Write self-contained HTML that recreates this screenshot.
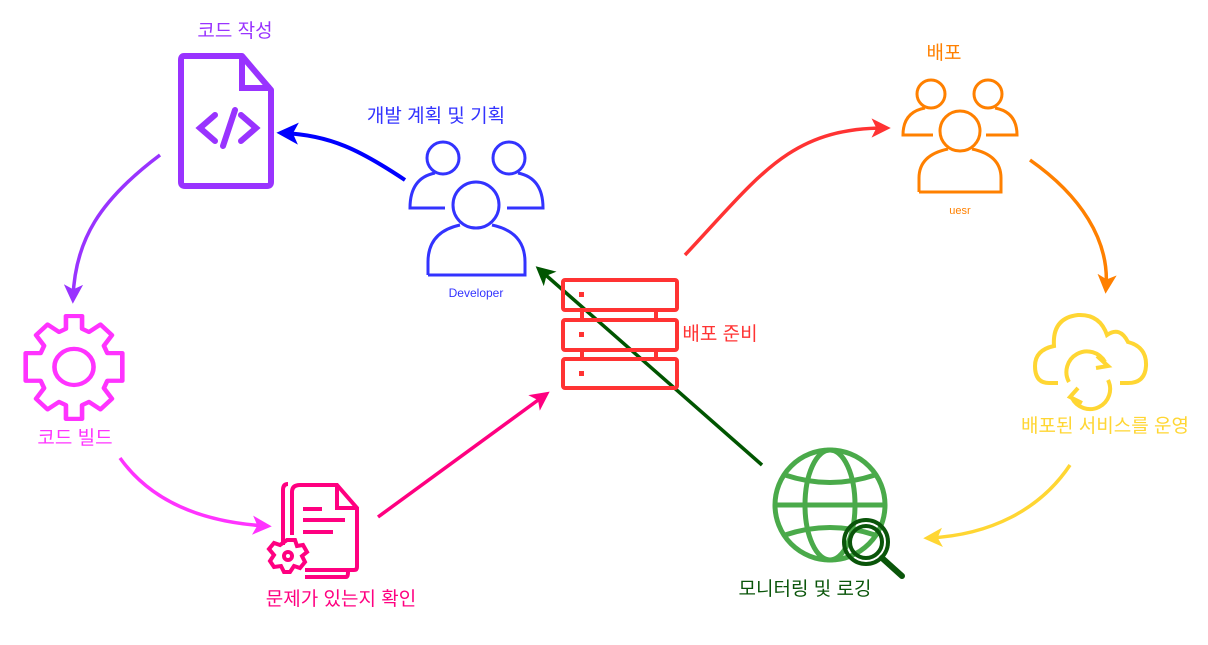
<!DOCTYPE html>
<html><head><meta charset="utf-8"><style>
html,body{margin:0;padding:0;background:#fff}
svg text{font-family:"Liberation Sans","Noto Sans CJK KR",sans-serif}
</style></head><body>
<svg width="1208" height="640" viewBox="0 0 1208 640" xmlns="http://www.w3.org/2000/svg">
<defs>
<marker id="m" viewBox="0 0 20 20" refX="14" refY="10" markerWidth="5.5" markerHeight="5.5" orient="auto" markerUnits="strokeWidth">
<path d="M0,0 L20,10 L0,20 L5,10 Z" fill="context-stroke"/>
</marker>
</defs>
<g fill="none" stroke-linecap="butt">
<path d="M405,180 C360,150 330,135 283,133" stroke="#0000ff" stroke-width="4" marker-end="url(#m)"/>
<path d="M160,155 C100,200 75,240 73,298" stroke="#9933ff" stroke-width="3.5" marker-end="url(#m)"/>
<path d="M120,458 C150,500 200,522 266,526" stroke="#ff33ff" stroke-width="3.5" marker-end="url(#m)"/>
<path d="M378,517 L545,395" stroke="#ff0080" stroke-width="3.5" marker-end="url(#m)"/>
<path d="M685,255 C760,175 790,128 885,128" stroke="#ff3333" stroke-width="3.5" marker-end="url(#m)"/>
<path d="M1030,160 C1080,195 1110,240 1106,288" stroke="#ff8000" stroke-width="3.5" marker-end="url(#m)"/>
<path d="M1070,465 C1040,510 990,535 929,538" stroke="#ffd633" stroke-width="3.5" marker-end="url(#m)"/>
<path d="M762,465 L540,270" stroke="#005500" stroke-width="3.5" marker-end="url(#m)"/>

<path d="M184,56 H242 L271,90 V182 Q271,186 267,186 H185 Q181,186 181,182 V60 Q181,56 184,56 Z" stroke="#9933ff" stroke-width="6" stroke-linejoin="round"/>
<path d="M242,56 V88 H271" stroke="#9933ff" stroke-width="6"/>
<path d="M215,115 L200,128 L215,141 M241,115 L256,128 L241,141 M235,110 L223,146" stroke="#9933ff" stroke-width="6" stroke-linecap="round"/>

<g stroke="#3333ff" stroke-width="3">
<circle cx="443" cy="158" r="16"/><circle cx="509" cy="158" r="16"/>
<path d="M445,208 H410 Q410,178 435,173"/>
<path d="M507,208 H543 Q543,178 518,173"/>
<circle cx="476" cy="205" r="23"/>
<path d="M428,275 V262 Q428,232 460,225 M492,225 Q525,232 525,262 V275 H428"/>
</g>

<g stroke="#ff33ff" stroke-width="4" stroke-linejoin="round" transform="translate(74,368) scale(1.15,1.06) translate(-71,-368)">
<path d="M64,319 H78 V331 L84,334 L94,327 L104,337 L97,347 L100,354 H113 V380 H100 L97,387 L104,397 L94,407 L84,400 L78,403 V416 H64 V403 L58,400 L48,407 L38,397 L45,387 L42,380 H29 V354 H42 L45,347 L38,337 L48,327 L58,334 L64,331 Z"/>
<circle cx="71" cy="367" r="17"/>
</g>

<g stroke="#ff0080" stroke-width="4">
<path d="M292,535 V492 Q292,485 300,485 H337 L357,508 V567 Q357,570 354,570 H305"/>
<path d="M337,485 V508 H357"/>
<path d="M283,545 V490 M283,490 Q283,484 288,484"/>
<path d="M305,577 H346 Q348,577 348,572"/>
<path d="M303,509 H322 M303,520 H345 M303,532 H333"/>
<path d="M287,540 L295,540 L297,546 L303,545 L307,552 L302,556 L305,562 L300,568 L294,566 L290,572 L284,572 L281,566 L274,567 L270,561 L274,555 L269,549 L274,543 L280,545 Z"/>
<circle cx="288" cy="556" r="4"/>
</g>

<g stroke="#ff3333" stroke-width="4">
<rect x="563" y="280" width="114" height="30" rx="2"/>
<rect x="563" y="320" width="114" height="30" rx="2"/>
<rect x="563" y="359" width="114" height="29" rx="2"/>
<path d="M582,310 V320 M656,310 V320 M582,350 V359 M656,350 V359"/>
</g>
<g fill="#ff3333"><rect x="579" y="292" width="5" height="5"/><rect x="579" y="332" width="5" height="5"/><rect x="579" y="371" width="5" height="5"/></g>

<g stroke="#ff8000" stroke-width="3">
<circle cx="931" cy="94" r="14"/><circle cx="988" cy="94" r="14"/>
<path d="M933,135 H903 Q903,112 925,108"/>
<path d="M986,135 H1017 Q1017,112 995,108"/>
<circle cx="960" cy="131" r="20"/>
<path d="M919,192 V178 Q919,155 948,149 M972,149 Q1001,155 1001,178 V192 H919"/>
</g>

<g stroke="#ffd633" stroke-width="4">
<path d="M1058,383 H1049 Q1035,383 1035,366 Q1035,350 1054,346 Q1052,318 1078,315 Q1100,314 1107,335 Q1120,326 1128,342 Q1147,347 1146,366 Q1145,383 1128,383 H1120"/>
<path d="M1069,382 A20,20 0 0 1 1105,362 M1108,380 A20,20 0 0 1 1072,398"/>
<path d="M1097,356 L1108,366 L1096,368"/>
<path d="M1082,403 L1070,397 L1078,388"/>
</g>

<g stroke="#4aaa4a" stroke-width="5">
<circle cx="830" cy="505" r="55"/>
<ellipse cx="830" cy="505" rx="25" ry="55"/>
<path d="M775,505 H885 M785,475 Q830,490 875,475 M785,535 Q830,520 875,535"/>
</g>
<g stroke="#0a550a" stroke-width="4">
<circle cx="866" cy="542" r="22"/>
<circle cx="866" cy="542" r="16"/>
<path d="M882,558 L902,576" stroke-width="6" stroke-linecap="round"/>
</g>
</g>

<g text-anchor="middle" font-size="19">
<text x="235" y="37" fill="#9933ff">코드 작성</text>
<text x="436" y="122" fill="#3333ff">개발 계획 및 기획</text>
<text x="476" y="297" fill="#3333ff" font-size="12">Developer</text>
<text x="75" y="444" fill="#ff33ff">코드 빌드</text>
<text x="341" y="605" fill="#ff0080">문제가 있는지 확인</text>
<text x="720" y="340" fill="#ff3333">배포 준비</text>
<text x="944" y="59" fill="#ff8000">배포</text>
<text x="960" y="214" fill="#ff8000" font-size="11">uesr</text>
<text x="1105" y="432" fill="#ffd633">배포된 서비스를 운영</text>
<text x="805" y="595" fill="#0a550a">모니터링 및 로깅</text>
</g>
</svg>
</body></html>
